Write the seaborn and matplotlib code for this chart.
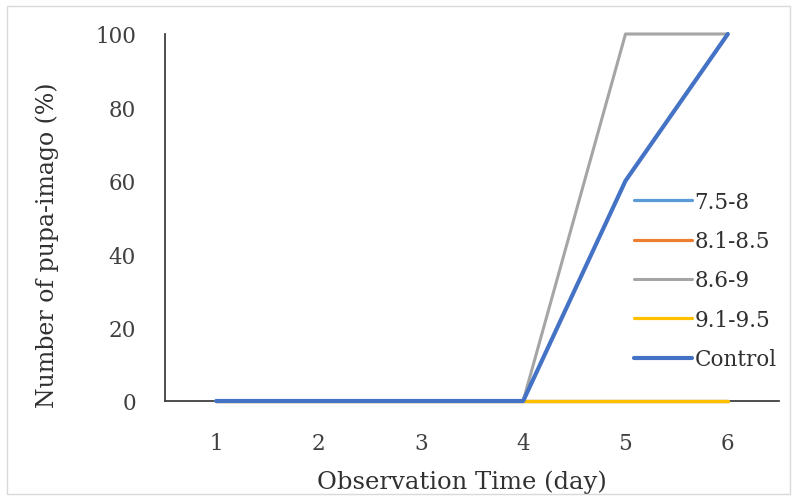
import matplotlib
matplotlib.use("Agg")
import matplotlib.pyplot as plt
import seaborn as sns
import pandas as pd
from matplotlib.patches import Rectangle

days = [1, 2, 3, 4, 5, 6]
s_75_8 = [0, 0, 0, 0, 0, 0]
s_81_85 = [0, 0, 0, 0, 0, 0]
s_86_9 = [0, 0, 0, 0, 100, 100]
s_91_95 = [0, 0, 0, 0, 0, 0]
s_control = [0, 0, 0, 0, 60, 100]
series_names = ["7.5-8", "8.1-8.5", "8.6-9", "9.1-9.5", "Control"]
series_values = [s_75_8, s_81_85, s_86_9, s_91_95, s_control]
colors = ["#5B9BD5", "#ED7D31", "#A5A5A5", "#FFC000", "#4472C4"]
widths = [2.3, 2.3, 2.2, 2.3, 3.0]
y_ticks = [0, 20, 40, 60, 80, 100]

rows = []
for name, vals in zip(series_names, series_values):
    for d, v in zip(days, vals):
        rows.append({"day": d, "value": v, "series": name})
df = pd.DataFrame(rows)

sns.set_theme(style="white")
plt.rcParams["font.family"] = ["DejaVu Serif"]

fig = plt.figure(figsize=(7.98, 5.02), dpi=100)
ax = fig.add_axes([165/798, 100/502, (779-165)/798, (402-35)/502])

sns.lineplot(data=df, x="day", y="value", hue="series", hue_order=series_names,
             palette=dict(zip(series_names, colors)), linewidth=2.4, ax=ax,
             legend=True)
for line, w in zip(ax.get_lines(), widths):
    line.set_linewidth(w)
    line.set_zorder(3)
    line.set_clip_on(False)

ax.set_xlim(0.5, 6.5)
ax.set_ylim(0, 100)
ax.set_xticks(days)
ax.set_xticklabels([str(d) for d in days])
ax.set_yticks(y_ticks)
ax.tick_params(axis="both", length=0, labelsize=15.5, colors="#404040")
ax.tick_params(axis="x", pad=22)
ax.tick_params(axis="y", pad=21)
for side in ["top", "right"]:
    ax.spines[side].set_visible(False)
for side in ["left", "bottom"]:
    ax.spines[side].set_color("#404040")
    ax.spines[side].set_linewidth(1.3)
ax.set_xlabel("Observation Time (day)", fontsize=17.5, color="#303030")
ax.set_ylabel("Number of pupa-imago (%)", fontsize=17, color="#303030")
ax.xaxis.set_label_coords(0.4837, -0.186)
ax.yaxis.set_label_coords(-0.173, 0.428)
ax.grid(False)

handles, labels = ax.get_legend_handles_labels()
for h, w in zip(handles, widths):
    h.set_linewidth(w)
leg = ax.legend(handles, labels, loc="upper left", bbox_to_anchor=(625/798, 1 - 183/502),
                bbox_transform=fig.transFigure, frameon=False, fontsize=15.5,
                handlelength=2.7, handletextpad=0.14, labelspacing=0.81, borderaxespad=0)
for t in leg.get_texts():
    t.set_color("#303030")

fig.patches.append(Rectangle((7/798, 7/502), 783/798, 488/502, transform=fig.transFigure,
                             fill=False, edgecolor="#d9d9d9", linewidth=1))

fig.savefig("out.png", dpi=100)
